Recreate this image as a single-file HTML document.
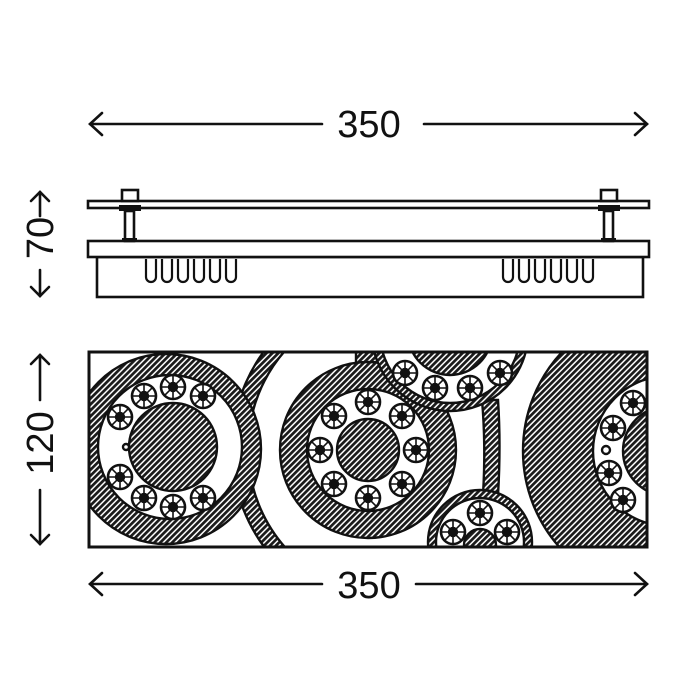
<!DOCTYPE html>
<html><head><meta charset="utf-8"><style>html,body{margin:0;padding:0;background:#fff}svg{display:block}</style></head><body>
<svg width="689" height="689" viewBox="0 0 689 689" xmlns="http://www.w3.org/2000/svg">
<defs>
<pattern id="h" patternUnits="userSpaceOnUse" width="4.2" height="4.2" patternTransform="rotate(45)">
<rect width="4.2" height="4.2" fill="#fff"/><rect width="2.7" height="4.2" fill="#1a1a1a"/>
</pattern>
<clipPath id="fr"><rect x="89" y="352" width="558" height="195"/></clipPath>
<clipPath id="lb"><rect x="89" y="340" width="215" height="220"/></clipPath>
<g id="L">
<circle r="12" fill="#fff" stroke="#111" stroke-width="2.6"/>
<g stroke="#111" stroke-width="1.6">
<line x1="-11" y1="0" x2="11" y2="0"/><line x1="0" y1="-11" x2="0" y2="11"/>
<line x1="-7.8" y1="-7.8" x2="7.8" y2="7.8"/><line x1="-7.8" y1="7.8" x2="7.8" y2="-7.8"/>
</g>
<circle r="4" fill="#111"/>
</g>
</defs>

<g stroke="#111" stroke-width="2.6" fill="none" stroke-linecap="round">
<line x1="90" y1="124" x2="322" y2="124"/><line x1="424" y1="124" x2="647" y2="124"/>
<polyline points="102,113 90,124 102,135"/><polyline points="635,113 647,124 635,135"/>
<line x1="90" y1="584" x2="322" y2="584"/><line x1="416" y1="584" x2="647" y2="584"/>
<polyline points="102,573 90,584 102,595"/><polyline points="635,573 647,584 635,595"/>
<line x1="40" y1="192" x2="40" y2="216"/><polyline points="31,201 40,192 49,201"/>
<line x1="40" y1="270" x2="40" y2="296"/><polyline points="31,287 40,296 49,287"/>
<line x1="40" y1="355" x2="40" y2="400"/><polyline points="31,364 40,355 49,364"/>
<line x1="40" y1="490" x2="40" y2="544"/><polyline points="31,535 40,544 49,535"/>
</g>
<g font-family="Liberation Sans, sans-serif" font-size="38" fill="#111" text-anchor="middle">
<text x="369" y="137">350</text>
<text x="369" y="598">350</text>
<text transform="translate(53,238) rotate(-90)">70</text>
<text transform="translate(53,443) rotate(-90)">120</text>
</g>

<g stroke="#111" stroke-width="2.6" fill="#fff">
<rect x="88" y="201" width="561" height="7"/>
<rect x="97" y="257" width="546" height="40"/>
<rect x="88" y="241" width="561" height="16"/>
<rect x="122" y="190" width="16" height="11"/>
<rect x="601" y="190" width="16" height="11"/>
<rect x="125" y="211" width="9" height="30"/>
<rect x="604" y="211" width="9" height="30"/>
</g>
<rect x="119" y="205" width="22" height="6" fill="#111"/>
<rect x="598" y="205" width="22" height="6" fill="#111"/>
<rect x="122" y="238" width="15" height="4" fill="#111"/>
<rect x="601" y="238" width="15" height="4" fill="#111"/>
<g stroke="#111" stroke-width="2.2" fill="none">
<path d="M146 259 V277 a5 5 0 0 0 10 0 V259 M162 259 V277 a5 5 0 0 0 10 0 V259 M178 259 V277 a5 5 0 0 0 10 0 V259 M194 259 V277 a5 5 0 0 0 10 0 V259 M210 259 V277 a5 5 0 0 0 10 0 V259 M226 259 V277 a5 5 0 0 0 10 0 V259"/>
<path d="M503 259 V277 a5 5 0 0 0 10 0 V259 M519 259 V277 a5 5 0 0 0 10 0 V259 M535 259 V277 a5 5 0 0 0 10 0 V259 M551 259 V277 a5 5 0 0 0 10 0 V259 M567 259 V277 a5 5 0 0 0 10 0 V259 M583 259 V277 a5 5 0 0 0 10 0 V259"/>
</g>

<g clip-path="url(#fr)" stroke="#111" stroke-width="2.4">
<rect x="89" y="352" width="558" height="195" fill="#fff" stroke="none"/>
<circle cx="668" cy="451" r="145" fill="url(#h)"/>
<circle cx="668" cy="451" r="75" fill="#fff"/>
<circle cx="668" cy="451" r="45" fill="url(#h)"/>
<use href="#L" x="633" y="403"/><use href="#L" x="613" y="428"/>
<use href="#L" x="609" y="473"/><use href="#L" x="623" y="500"/>
<circle cx="606" cy="450" r="4" fill="#fff"/>
<g clip-path="url(#lb)">
<circle cx="397" cy="449" r="165" fill="url(#h)"/>
<circle cx="397" cy="449" r="149" fill="#fff"/>
</g>
<circle cx="166" cy="449" r="95" fill="url(#h)"/>
<circle cx="170" cy="447" r="72" fill="#fff"/>
<circle cx="173" cy="447" r="44" fill="url(#h)"/>
<circle cx="126" cy="447" r="3" fill="#fff"/>
<use href="#L" x="144" y="396"/><use href="#L" x="173" y="387"/><use href="#L" x="203" y="396"/>
<use href="#L" x="120" y="417"/><use href="#L" x="120" y="477"/>
<use href="#L" x="144" y="498"/><use href="#L" x="173" y="507"/><use href="#L" x="203" y="498"/>
<path d="M356 352 L382 352 Q392 385 425 408 L405 412 Q385 385 356 366 Z" fill="url(#h)"/>
<path d="M482 400 Q486 445 483 495 L498 495 Q501 445 498 400 Z" fill="url(#h)"/>
<circle cx="368" cy="450" r="88" fill="url(#h)"/>
<circle cx="368" cy="450" r="61" fill="#fff"/>
<circle cx="368" cy="450" r="31" fill="url(#h)"/>
<use href="#L" x="368" y="402"/><use href="#L" x="402" y="416"/><use href="#L" x="416" y="450"/>
<use href="#L" x="402" y="484"/><use href="#L" x="368" y="498"/><use href="#L" x="334" y="484"/>
<use href="#L" x="320" y="450"/><use href="#L" x="334" y="416"/>
<circle cx="450" cy="333" r="78" fill="url(#h)"/>
<circle cx="450" cy="333" r="70" fill="#fff"/>
<circle cx="450" cy="333" r="42" fill="url(#h)"/>
<use href="#L" x="405" y="373"/><use href="#L" x="435" y="388"/>
<use href="#L" x="470" y="388"/><use href="#L" x="500" y="373"/>
<circle cx="480" cy="542" r="52" fill="url(#h)"/>
<circle cx="480" cy="542" r="44" fill="#fff"/>
<circle cx="480" cy="545" r="16" fill="url(#h)"/>
<use href="#L" x="480" y="513"/><use href="#L" x="453" y="532"/><use href="#L" x="507" y="532"/>
</g>
<rect x="89" y="352" width="558" height="195" fill="none" stroke="#111" stroke-width="3"/>
</svg>
</body></html>
